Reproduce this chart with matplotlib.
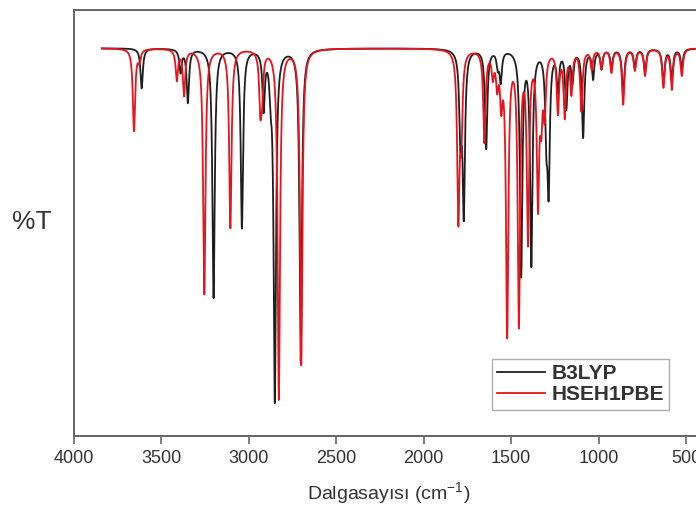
import numpy as np
import matplotlib
matplotlib.use("Agg")
import matplotlib.pyplot as plt

plt.rcParams['font.family'] = ['Liberation Sans', 'DejaVu Sans']
plt.rcParams['mathtext.fontset'] = 'custom'
plt.rcParams['mathtext.rm'] = 'Liberation Sans'

# peak positions (cm-1) and depths (100 - %T)
b3lyp_pos = [3612, 3390, 3348, 3201, 3039, 2915, 2875, 2851, 2703,
             1790, 1771, 1643, 1577, 1560, 1443, 1385, 1299, 1286, 1233,
             1185, 1150, 1089, 1032, 984, 927, 860, 793, 735, 630, 582, 525]
b3lyp_depth = [10.5, 6, 14, 65.5, 47, 15, 8, 92, 82,
               22, 42, 26, 4, 8, 59, 56, 19, 34, 10,
               15, 8, 23, 7.5, 5, 5, 12, 5, 6, 9, 8, 5]

hse_pos = [3656, 3625, 3411, 3370, 3254, 3105, 2934, 2924, 2828, 2700,
           1802, 1785, 1653, 1605, 1580, 1557, 1523, 1456, 1404, 1347,
           1328, 1309, 1233, 1194, 1156, 1099, 1040, 984, 927, 860, 793,
           735, 630, 582, 525]
hse_depth = [21.6, 3, 8, 12, 64.5, 47, 14, 10, 92, 83,
             43, 20, 24, 6, 8, 12, 74, 71, 49, 39,
             15, 15, 16, 17, 11, 16, 5, 5, 6, 14.5, 5.5,
             7, 10, 10.5, 7]

hwhm = 8.0
wn = np.linspace(3840, 400, 20000)


def spectrum(pos, depth):
    t = np.full_like(wn, 100.0)
    for p, d in zip(pos, depth):
        t -= d / (1 + ((wn - p) / hwhm) ** 2)
    return t


fig = plt.figure(figsize=(6.96, 5.11), dpi=100)
ax = fig.add_axes([0.106, 0.147, 0.905, 0.833])

ax.plot(wn, spectrum(b3lyp_pos, b3lyp_depth), color='#1e1e1e', lw=1.3, label='B3LYP')
ax.plot(wn, spectrum(hse_pos, hse_depth), color='#e8141c', lw=1.3, label='HSEH1PBE')

ax.set_xlim(4000, 400)
ax.set_ylim(-2, 110)
ax.set_xticks([4000, 3500, 3000, 2500, 2000, 1500, 1000, 500])
ax.set_yticks([])

for side in ['left', 'bottom', 'top']:
    ax.spines[side].set_color('#666666')
    ax.spines[side].set_linewidth(1.4)
ax.spines['right'].set_visible(False)
ax.tick_params(axis='x', direction='out', length=6, width=1.2, color='#666666',
               labelsize=13, labelcolor='#333333', pad=4)

ax.set_xlabel(r'Dalgasayısı (cm$^{\mathregular{-1}}$)', fontsize=14, color='#333333', labelpad=10)
fig.text(0.045, 1 - 222 / 511, '%T', fontsize=19, color='#333333', ha='center', va='center')

leg = ax.legend(loc='upper left', bbox_to_anchor=(492 / 696, 1 - 359 / 511),
                bbox_transform=fig.transFigure, borderaxespad=0, fontsize=15,
                fancybox=False, frameon=True, edgecolor='#999999',
                handlelength=2.3, handletextpad=0.3, labelspacing=0.1, borderpad=0.25)
leg.get_frame().set_linewidth(1.0)
for txt in leg.get_texts():
    txt.set_color('#333333')
    txt.set_fontweight('bold')

fig.savefig('out.png', dpi=100)
